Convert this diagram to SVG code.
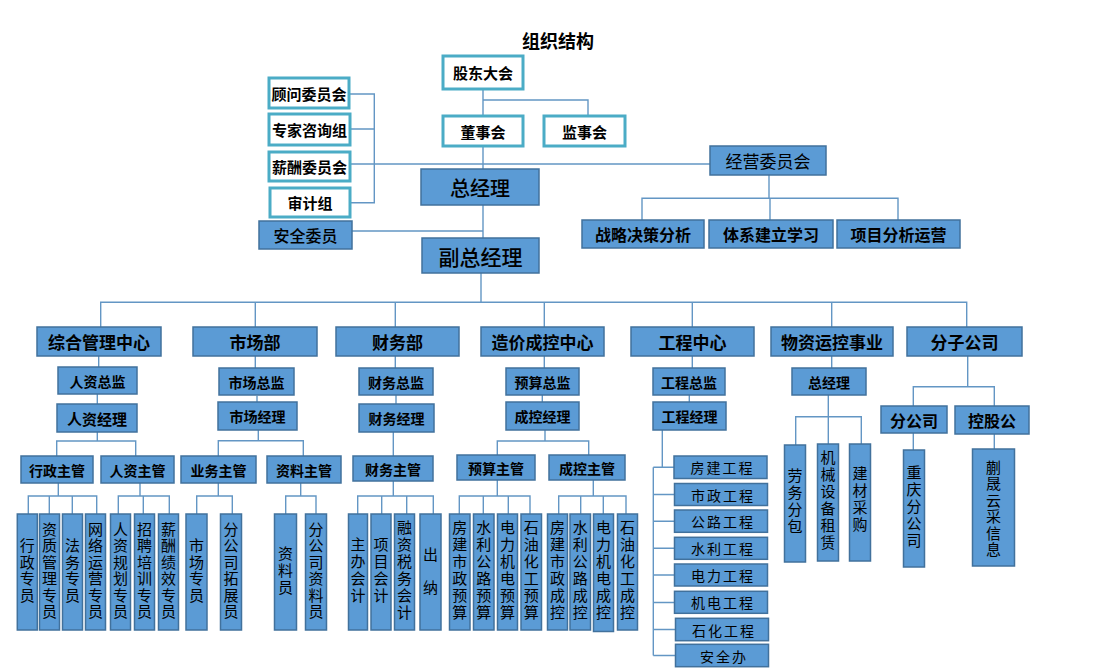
<svg xmlns="http://www.w3.org/2000/svg" width="1110" height="670" viewBox="0 0 1110 670">
<style>
text{font-family:"Noto Sans CJK SC","Noto Sans CJK TC",sans-serif;fill:#000;text-anchor:middle;dominant-baseline:central}
.t{fill:#fff;stroke:#4bacc6;stroke-width:3}
.b{fill:#5b9bd5;stroke:#41719c;stroke-width:1.5}
.c{fill:none;stroke:#6396c4;stroke-width:1.4}
.tt{font-size:15px;font-weight:700}
.h1{font-size:20px;font-weight:500}
.h2{font-size:17px;font-weight:700}
.h3{font-size:14px;font-weight:700}
.hr{font-size:17px;font-weight:400}
.g{font-size:16px;font-weight:700}
.e{font-size:14px;font-weight:400;letter-spacing:2px}
.v{font-size:15px;font-weight:400;writing-mode:vertical-rl;letter-spacing:1.5px}
.v2{font-size:15px;font-weight:400;writing-mode:vertical-rl;letter-spacing:2px}
</style>
<rect width="1110" height="670" fill="#fff"/>
<text x="558" y="40" style="font-size:18px;font-weight:700">组织结构</text>

<g id="connectors" class="c">
<path d="M483 89V100H588V116M483 100V116M483 146V169"/>
<path d="M350 94H374.3V202.7H350M350 129H374.3M350 164H710"/>
<path d="M483 205V238M352 231H483"/>
<path d="M769 175V198.3M642 220V198.3H898V220M770 198.3V220"/>
<path d="M481 273V302.3M100.7 327V302.3H966.7V327M255.3 302.3V327M395.3 302.3V327M544.3 302.3V327M692.3 302.3V327M831.7 302.3V327"/>
<path d="M98.7 356V367M97.3 394V404M97.3 432V441M56.7 456V441H135.7V456"/>
<path d="M255.3 355V368M257 395.7V402M258.3 430V440.7M218.3 456V440.7H303.3V456"/>
<path d="M58.3 483V496M28.3 514V496H96.7V514M49.3 496V514M72.3 496V514"/>
<path d="M140 483V496M118.3 514V496H169.3V514M143.3 496V514"/>
<path d="M218.3 483V496M196.7 514V496H232.3V514M300.7 483V496M285.7 514V496H316V514"/>
<path d="M395.3 356V368M396 395V404M393.3 432V456M393.3 481V496M357.7 514V496H433.3V514M381.7 496V514M406.7 496V514"/>
<path d="M544.3 356V368M542.3 395V402M545 430V441M497.3 455V441H588.7V455"/>
<path d="M497.3 480V496M459.3 514V496H530V514M483.3 496V514M508.3 496V514"/>
<path d="M593.3 480V496M558.7 514V496H626V514M580.7 496V514M603.3 496V514"/>
<path d="M692.3 356V368M689.3 395V402M662.3 430V467.3M653.3 467.3H674M653.3 467.3V655.5M653.3 494.5H674M653.3 521.2H674M653.3 548.3H674M653.3 575H674M653.3 602.5H674M653.3 629.5H675.5M653.3 655.5H675.5"/>
<path d="M831.7 356V368M828.3 395V444M795.7 445V416.7H861.3V444"/>
<path d="M967.7 356V386.7M913.3 406V386.7H994.3V406M913.3 433V450M994.3 434V449"/>
</g>

<g id="gudong"><rect class="t" x="443" y="56" width="80" height="33"/><text class="tt" x="483" y="72.5">股东大会</text></g>
<g id="dongshi"><rect class="t" x="443" y="116" width="80" height="30"/><text class="tt" x="483" y="131">董事会</text></g>
<g id="jianshi"><rect class="t" x="544" y="116" width="81" height="30"/><text class="tt" x="584.5" y="131">监事会</text></g>
<g id="guwen"><rect class="t" x="269" y="78" width="80" height="30"/><text class="tt" x="309" y="93">顾问委员会</text></g>
<g id="zhuanjia"><rect class="t" x="269" y="114" width="81" height="31"/><text class="tt" x="309.5" y="129.5">专家咨询组</text></g>
<g id="xinchou"><rect class="t" x="269" y="152" width="81" height="29"/><text class="tt" x="309.5" y="166.5">薪酬委员会</text></g>
<g id="shenji"><rect class="t" x="270" y="188" width="80" height="29"/><text class="tt" x="310" y="202.5">审计组</text></g>

<g id="zongjingli"><rect class="b" x="421" y="169" width="118" height="36"/><text class="h1" x="480" y="187">总经理</text></g>
<g id="anquan"><rect class="b" x="259" y="221" width="93" height="28"/><text style="font-size:16px;font-weight:500" x="305.5" y="235">安全委员</text></g>
<g id="fuzong"><rect class="b" x="422" y="238" width="117" height="35"/><text style="font-size:21px;font-weight:500" x="480.5" y="255.5">副总经理</text></g>
<g id="jingying"><rect class="b" x="710" y="146" width="116" height="29"/><text class="hr" x="768" y="160.5">经营委员会</text></g>
<g id="zhanlue"><rect class="b" x="582" y="220" width="122" height="28"/><text class="g" x="643" y="234">战略决策分析</text></g>
<g id="tixi"><rect class="b" x="709" y="220" width="124" height="28"/><text class="g" x="771" y="234">体系建立学习</text></g>
<g id="xiangmu"><rect class="b" x="837" y="220" width="123" height="28"/><text class="g" x="898.5" y="234">项目分析运营</text></g>

<g id="zonghe"><rect class="b" x="37" y="327" width="124" height="29"/><text class="h2" x="99" y="341.5">综合管理中心</text></g>
<g id="shichang"><rect class="b" x="193" y="327" width="124" height="29"/><text class="h2" x="255" y="341.5">市场部</text></g>
<g id="caiwu"><rect class="b" x="336" y="327" width="123" height="29"/><text class="h2" x="397.5" y="341.5">财务部</text></g>
<g id="zaojia"><rect class="b" x="481" y="327" width="123" height="29"/><text class="h2" x="542.5" y="341.5">造价成控中心</text></g>
<g id="gongcheng"><rect class="b" x="631" y="327" width="123" height="29"/><text class="h2" x="692.5" y="341.5">工程中心</text></g>
<g id="wuzi"><rect class="b" x="771" y="327" width="122" height="29"/><text class="h2" x="832" y="341.5">物资运控事业</text></g>
<g id="fenzi"><rect class="b" x="907" y="327" width="115" height="29"/><text class="h2" x="964.5" y="341.5">分子公司</text></g>

<g id="renzizongjian"><rect class="b" x="58" y="367" width="79" height="27"/><text class="h3" x="97.5" y="380.5">人资总监</text></g>
<g id="shichangzongjian"><rect class="b" x="219" y="368" width="75" height="27"/><text class="h3" x="256.5" y="381.5">市场总监</text></g>
<g id="caiwuzongjian"><rect class="b" x="359" y="368" width="74" height="27"/><text class="h3" x="396" y="381.5">财务总监</text></g>
<g id="yusuanzongjian"><rect class="b" x="506" y="368" width="73" height="27"/><text class="h3" x="542.5" y="381.5">预算总监</text></g>
<g id="gongchengzongjian"><rect class="b" x="653" y="368" width="72" height="27"/><text class="h3" x="689" y="381.5">工程总监</text></g>
<g id="wuzizongjingli"><rect class="b" x="792" y="368" width="74" height="27"/><text class="h3" x="829" y="381.5">总经理</text></g>

<g id="renzijingli"><rect class="b" x="57" y="404" width="80" height="28"/><text class="h3" style="font-size:15px" x="97" y="418">人资经理</text></g>
<g id="shichangjingli"><rect class="b" x="218" y="402" width="79" height="28"/><text class="h3" x="257.5" y="416">市场经理</text></g>
<g id="caiwujingli"><rect class="b" x="359" y="404" width="75" height="28"/><text class="h3" x="396.5" y="418">财务经理</text></g>
<g id="chengkongjingli"><rect class="b" x="506" y="402" width="73" height="28"/><text class="h3" x="542.5" y="416">成控经理</text></g>
<g id="gongchengjingli"><rect class="b" x="653" y="402" width="73" height="28"/><text class="h3" x="689.5" y="416">工程经理</text></g>
<g id="fengongsi"><rect class="b" x="881" y="406" width="66" height="27"/><text class="h2" style="font-size:16px" x="914" y="419.5">分公司</text></g>
<g id="konggu"><rect class="b" x="955" y="406" width="74" height="28"/><text class="h2" style="font-size:16px" x="992" y="420">控股公</text></g>

<g id="xingzhengzhuguan"><rect class="b" x="21" y="456" width="72" height="27"/><text class="h3" x="57" y="469.5">行政主管</text></g>
<g id="renzizhuguan"><rect class="b" x="101" y="456" width="73" height="27"/><text class="h3" x="137.5" y="469.5">人资主管</text></g>
<g id="yewuzhuguan"><rect class="b" x="181" y="456" width="75" height="27"/><text class="h3" x="218.5" y="469.5">业务主管</text></g>
<g id="ziliaozhuguan"><rect class="b" x="267" y="456" width="74" height="27"/><text class="h3" x="304" y="469.5">资料主管</text></g>
<g id="caiwuzhuguan"><rect class="b" x="353" y="456" width="80" height="25"/><text class="h3" x="393" y="468.5">财务主管</text></g>
<g id="yusuanzhuguan"><rect class="b" x="457" y="455" width="78" height="25"/><text class="h3" x="496" y="467.5">预算主管</text></g>
<g id="chengkongzhuguan"><rect class="b" x="549" y="455" width="76" height="25"/><text class="h3" x="587" y="467.5">成控主管</text></g>

<g id="v1"><rect class="b" x="17.3" y="514" width="20" height="116"/><text class="v" x="27.3" y="571">行政专员</text></g>
<g id="v2"><rect class="b" x="39.5" y="514" width="20" height="116"/><text class="v" x="49.5" y="571">资质管理专员</text></g>
<g id="v3"><rect class="b" x="62.5" y="514" width="20" height="116"/><text class="v" x="72.5" y="571">法务专员</text></g>
<g id="v4"><rect class="b" x="85.5" y="514" width="20" height="116"/><text class="v" x="95.5" y="571">网络运营专员</text></g>
<g id="v5"><rect class="b" x="110.5" y="514" width="20" height="116"/><text class="v" x="120.5" y="571">人资规划专员</text></g>
<g id="v6"><rect class="b" x="134.5" y="514" width="20" height="116"/><text class="v" x="144.5" y="571">招聘培训专员</text></g>
<g id="v7"><rect class="b" x="158.5" y="514" width="20" height="116"/><text class="v" x="168.5" y="571">薪酬绩效专员</text></g>
<g id="v8"><rect class="b" x="186" y="514" width="21" height="116"/><text class="v" x="196.5" y="571">市场专员</text></g>
<g id="v9"><rect class="b" x="220.5" y="514" width="21" height="116"/><text class="v" x="231" y="571">分公司拓展员</text></g>
<g id="v10"><rect class="b" x="274.5" y="514" width="22" height="116"/><text class="v2" x="285.5" y="571">资料员</text></g>
<g id="v11"><rect class="b" x="305.5" y="514" width="21" height="116"/><text class="v" x="316" y="571">分公司资料员</text></g>
<g id="v12"><rect class="b" x="348.5" y="514" width="19" height="116"/><text class="v2" x="358" y="571">主办会计</text></g>
<g id="v13"><rect class="b" x="371" y="514" width="20" height="116"/><text class="v2" x="381" y="571">项目会计</text></g>
<g id="v14"><rect class="b" x="394.5" y="514" width="20" height="116"/><text class="v2" x="404.5" y="571">融资税务会计</text></g>
<g id="v15"><rect class="b" x="420" y="514" width="21" height="116"/><text class="v" style="letter-spacing:18px" x="430.5" y="580">出纳</text></g>
<g id="v16"><rect class="b" x="449.5" y="514" width="20.5" height="116"/><text class="v2" x="459.7" y="571">房建市政预算</text></g>
<g id="v17"><rect class="b" x="473.5" y="514" width="20.5" height="116"/><text class="v2" x="483.7" y="571">水利公路预算</text></g>
<g id="v18"><rect class="b" x="497.5" y="514" width="20" height="116"/><text class="v2" x="507.5" y="571">电力机电预算</text></g>
<g id="v19"><rect class="b" x="521" y="514" width="20.5" height="116"/><text class="v2" x="531.3" y="571">石油化工预算</text></g>
<g id="v20"><rect class="b" x="547.5" y="514" width="20" height="116"/><text class="v2" x="557.5" y="571">房建市政成控</text></g>
<g id="v21"><rect class="b" x="570" y="514" width="20.5" height="116"/><text class="v2" x="580.3" y="571">水利公路成控</text></g>
<g id="v22"><rect class="b" x="593.5" y="514" width="20" height="117.5"/><text class="v2" x="603.5" y="571">电力机电成控</text></g>
<g id="v23"><rect class="b" x="617.5" y="514" width="20" height="116"/><text class="v2" x="627.5" y="571">石油化工成控</text></g>

<g id="e1"><rect class="b" x="674" y="456" width="93" height="22.5"/><text class="e" x="722.5" y="467.3">房建工程</text></g>
<g id="e2"><rect class="b" x="674.5" y="483.5" width="93" height="22"/><text class="e" x="723" y="494.5">市政工程</text></g>
<g id="e3"><rect class="b" x="674.5" y="510" width="93" height="22.3"/><text class="e" x="723" y="521.2">公路工程</text></g>
<g id="e4"><rect class="b" x="674.5" y="537.3" width="93" height="22"/><text class="e" x="723" y="548.3">水利工程</text></g>
<g id="e5"><rect class="b" x="674.5" y="564" width="93" height="22"/><text class="e" x="723" y="575">电力工程</text></g>
<g id="e6"><rect class="b" x="674.5" y="591.3" width="93" height="22"/><text class="e" x="723" y="602.3">机电工程</text></g>
<g id="e7"><rect class="b" x="675.5" y="618.3" width="93" height="22.4"/><text class="e" x="724" y="629.5">石化工程</text></g>
<g id="e8"><rect class="b" x="675.5" y="644.3" width="93" height="22.4"/><text class="e" x="724" y="655.5">安全办</text></g>

<g id="w1"><rect class="b" x="784.5" y="445" width="21" height="117"/><text class="v2" x="795" y="501.5">劳务分包</text></g>
<g id="w2"><rect class="b" x="817.5" y="444" width="21" height="117"/><text class="v2" x="828" y="500.5">机械设备租赁</text></g>
<g id="w3"><rect class="b" x="849.5" y="444" width="21" height="117"/><text class="v2" x="860" y="500">建材采购</text></g>
<g id="f1"><rect class="b" x="903.5" y="450" width="21" height="117"/><text class="v2" x="914" y="507.5">重庆分公司</text></g>
<g id="f2"><rect class="b" x="972.5" y="449" width="42" height="117"/><text class="v" x="993.5" y="509">蒯晟云采信息</text></g>
</svg>
